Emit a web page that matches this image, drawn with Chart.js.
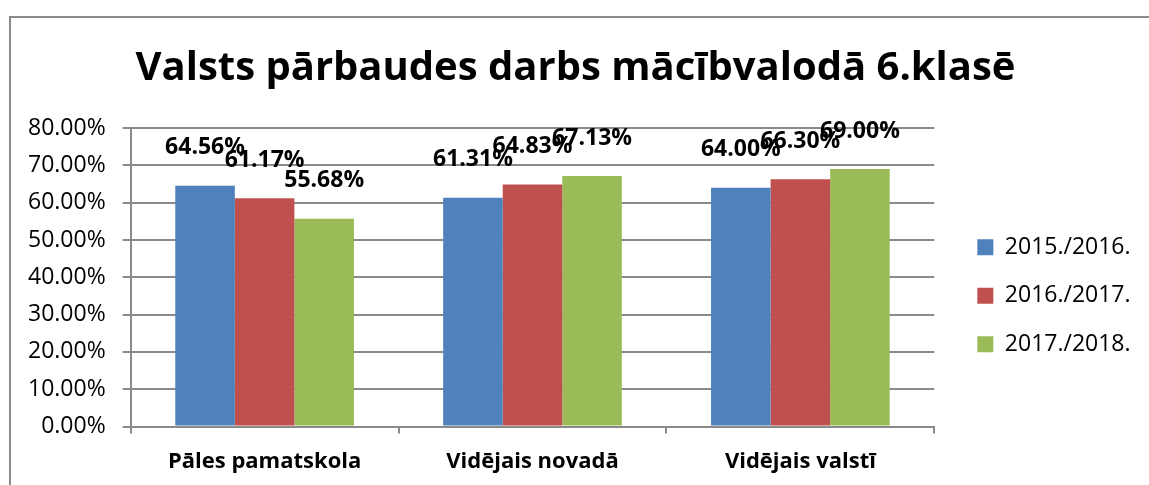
<!DOCTYPE html>
<html>
<head>
    <meta charset="utf-8">
    <title>Valsts pārbaudes darbs mācībvalodā 6.klasē</title>
    <style>
        body {
            margin: 0;
            background: #fff;
        }
        .frame {
            position: absolute;
            left: 9px;
            top: 16px;
            width: 1140px;
            height: 469px;
            border-left: 2px solid #8a8a8a;
            border-top: 2px solid #8a8a8a;
            box-sizing: border-box;
        }
    </style>
</head>
<body>
    <div class="frame">
        <canvas id="chart"></canvas>
    </div>

    <script src="https://cdn.jsdelivr.net/npm/chart.js"></script>
    <script>
        const categories = ['Pāles pamatskola', 'Vidējais novadā', 'Vidējais valstī'];
        const years = ['2015./2016.', '2016./2017.', '2017./2018.'];
        const values2015 = [64.56, 61.31, 64.00];
        const values2016 = [61.17, 64.83, 66.30];
        const values2017 = [55.68, 67.13, 69.00];
        const colors = ['#4f81bd', '#c0504d', '#9bbb59'];

        const gridColor = '#8a8a8a';

        // value labels above each bar
        const barLabels = {
            id: 'barLabels',
            afterDatasetsDraw(chart) {
                const ctx = chart.ctx;
                ctx.save();
                ctx.font = 'bold 23px "Open Sans"';
                ctx.fillStyle = '#000';
                ctx.textAlign = 'center';
                ctx.textBaseline = 'middle';
                chart.data.datasets.forEach((ds, i) => {
                    chart.getDatasetMeta(i).data.forEach((bar, j) => {
                        ctx.fillText(ds.data[j].toFixed(2) + '%', bar.x, bar.y - 38);
                    });
                });
                ctx.restore();
            }
        };

        const ctx = document.getElementById('chart').getContext('2d');
        const chart = new Chart(ctx, {
            type: 'bar',
            data: {
                labels: categories,
                datasets: [
                    { label: years[0], data: values2015, backgroundColor: colors[0] },
                    { label: years[1], data: values2016, backgroundColor: colors[1] },
                    { label: years[2], data: values2017, backgroundColor: colors[2] }
                ]
            },
            options: {
                responsive: true,
                maintainAspectRatio: false,
                animation: false,
                datasets: {
                    bar: {
                        barPercentage: 1,
                        categoryPercentage: 0.667
                    }
                },
                layout: {
                    padding: { left: 0, right: 9, top: 0, bottom: -5 }
                },
                plugins: {
                    title: {
                        display: true,
                        text: 'Valsts pārbaudes darbs mācībvalodā 6.klasē',
                        color: '#000',
                        font: { family: 'Open Sans', size: 40, weight: 'bold' },
                        padding: { top: 27, bottom: 35 }
                    },
                    legend: {
                        position: 'right',
                        fullSize: false,
                        title: {
                            display: true,
                            text: ' ',
                            font: { size: 20 },
                            padding: 6.5
                        },
                        labels: {
                            color: '#000',
                            font: { family: 'Open Sans', size: 23 },
                            boxWidth: 16,
                            boxHeight: 16,
                            padding: 25.5
                        }
                    },
                    tooltip: { enabled: false }
                },
                scales: {
                    x: {
                        grid: {
                            drawOnChartArea: false,
                            drawTicks: true,
                            tickLength: 7,
                            color: gridColor,
                            lineWidth: 2
                        },
                        border: { color: gridColor, width: 2 },
                        ticks: {
                            color: '#000',
                            font: { family: 'Open Sans', size: 22, weight: 'bold' },
                            padding: 15
                        }
                    },
                    y: {
                        min: 0,
                        max: 80,
                        grid: {
                            color: gridColor,
                            lineWidth: 2,
                            tickLength: 8
                        },
                        border: { color: gridColor, width: 2 },
                        ticks: {
                            stepSize: 10,
                            color: '#000',
                            font: { family: 'Open Sans', size: 23 },
                            padding: 17,
                            callback: v => v.toFixed(2) + '%'
                        }
                    },
                    gap: {
                        position: 'right',
                        display: true,
                        grid: { display: false },
                        border: { display: false },
                        ticks: { display: false },
                        afterFit(scale) { scale.width = 17.5; }
                    }
                }
            },
            plugins: [barLabels]
        });
    </script>
</body>
</html>
